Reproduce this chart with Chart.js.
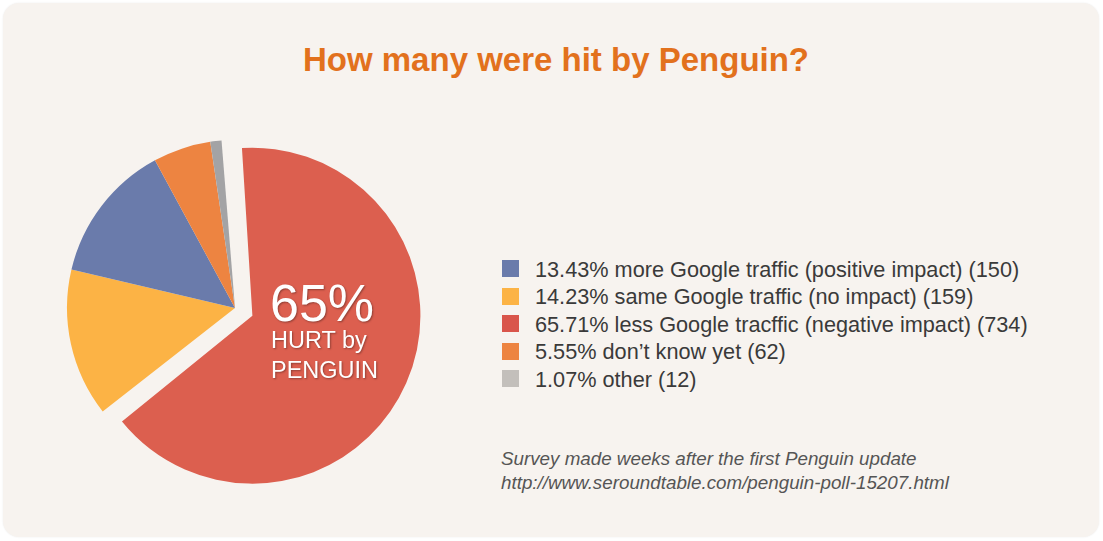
<!DOCTYPE html>
<html>
<head>
<meta charset="utf-8">
<script src="https://cdn.jsdelivr.net/npm/chart.js@4/dist/chart.umd.min.js"></script>
<style>
  html, body { margin: 0; padding: 0; background: #ffffff; }
  body { width: 1103px; height: 541px; position: relative; overflow: hidden; font-family: "Liberation Sans", Arial, sans-serif; }
  #panel { position: absolute; left: 3px; top: 3px; width: 1096px; height: 534px; border-radius: 16px; background: #f7f3ef; box-shadow: 0 0 2px rgba(0,0,0,0.08); }
  #title { position: absolute; left: 0; width: 1112px; top: 43px; text-align: center; font-weight: bold; font-size: 33px; line-height: 1; color: #e2711d; white-space: nowrap; }
  #pieWrap { position: absolute; left: 15px; top: 88px; width: 440px; height: 440px; }
  .big { position: absolute; color: #fff; white-space: nowrap; line-height: 1; text-shadow: 1px 1px 2px rgba(0,0,0,0.35); }
  .legRow { position: absolute; left: 502px; height: 28px; white-space: nowrap; }
  .legBox { position: absolute; left: 0; top: 1.5px; width: 17px; height: 17px; }
  .legTxt { position: absolute; left: 33px; top: 0; font-size: 21.7px; line-height: 1; color: #3a3a3a; }
  .note { position: absolute; left: 501px; font-size: 18.8px; line-height: 1; font-style: italic; color: #555; white-space: nowrap; }
</style>
</head>
<body>
<div id="panel"></div>
<div id="title">How many were hit by Penguin?</div>
<div id="pieWrap"><canvas id="pie" width="440" height="440"></canvas></div>
<div class="big" style="left:270px; top:277px; font-size:52px;">65%</div>
<div class="big" style="left:271px; top:328.7px; font-size:23.5px;">HURT by</div>
<div class="big" style="left:271px; top:358.7px; font-size:23.5px;">PENGUIN</div>
<div id="legend"></div>
<div class="note" style="top:450px;">Survey made weeks after the first Penguin update</div>
<div class="note" style="top:474px;">http://www.seroundtable.com/penguin-poll-15207.html</div>
<script>
// ---- data ----
const categories = ['more Google traffic (positive impact)', 'same Google traffic (no impact)', 'less Google tracffic (negative impact)', 'don\u2019t know yet', 'other'];
const percents = [13.43, 14.23, 65.71, 5.55, 1.07];
const counts = [150, 159, 734, 62, 12];
const colors = ['#6a7bab', '#fcb345', '#dc5f4f', '#ed8441', '#a3a3a5'];
const legendColors = ['#6a7bab', '#fcb345', '#d9554b', '#ed8441', '#c3bfbb'];
// clockwise drawing order of the slices in the pie (starting near 12 o'clock)
const pieOrder = [2, 1, 0, 3, 4];
const explodedIndex = 2;

// ---- legend (HTML text) ----
const legend = document.getElementById('legend');
categories.forEach((c, i) => {
  const row = document.createElement('div');
  row.className = 'legRow';
  row.style.top = (258.5 + i * 27.6) + 'px';
  const box = document.createElement('div');
  box.className = 'legBox';
  box.style.background = legendColors[i];
  const txt = document.createElement('div');
  txt.className = 'legTxt';
  txt.textContent = percents[i].toFixed(2) + '% ' + c + ' (' + counts[i] + ')';
  row.appendChild(box); row.appendChild(txt);
  legend.appendChild(row);
});

// keep the exploded slice at the same radius as the others
const explodeFix = {
  id: 'explodeFix',
  afterDatasetUpdate(chart, args) {
    args.meta.data.forEach((arc) => {
      const o = (arc.options && arc.options.offset) || 0;
      if (o) {
        const fix = 1 - Math.sin(Math.min(Math.PI, arc.circumference));
        arc.outerRadius = arc.outerRadius - (o / 4) * fix;
      }
    });
  }
};

new Chart(document.getElementById('pie'), {
  type: 'pie',
  data: {
    labels: pieOrder.map(i => categories[i]),
    datasets: [{
      data: pieOrder.map(i => counts[i]),
      backgroundColor: pieOrder.map(i => colors[i]),
      borderWidth: 0,
      offset: pieOrder.map(i => i === explodedIndex ? 76 : 0),
      hoverOffset: 0
    }]
  },
  options: {
    responsive: false,
    animation: false,
    events: [],
    rotation: -4.6,
    radius: 168,
    layout: { padding: 0 },
    plugins: { legend: { display: false }, tooltip: { enabled: false }, title: { display: false } }
  },
  plugins: [explodeFix]
});
</script>
</body>
</html>
